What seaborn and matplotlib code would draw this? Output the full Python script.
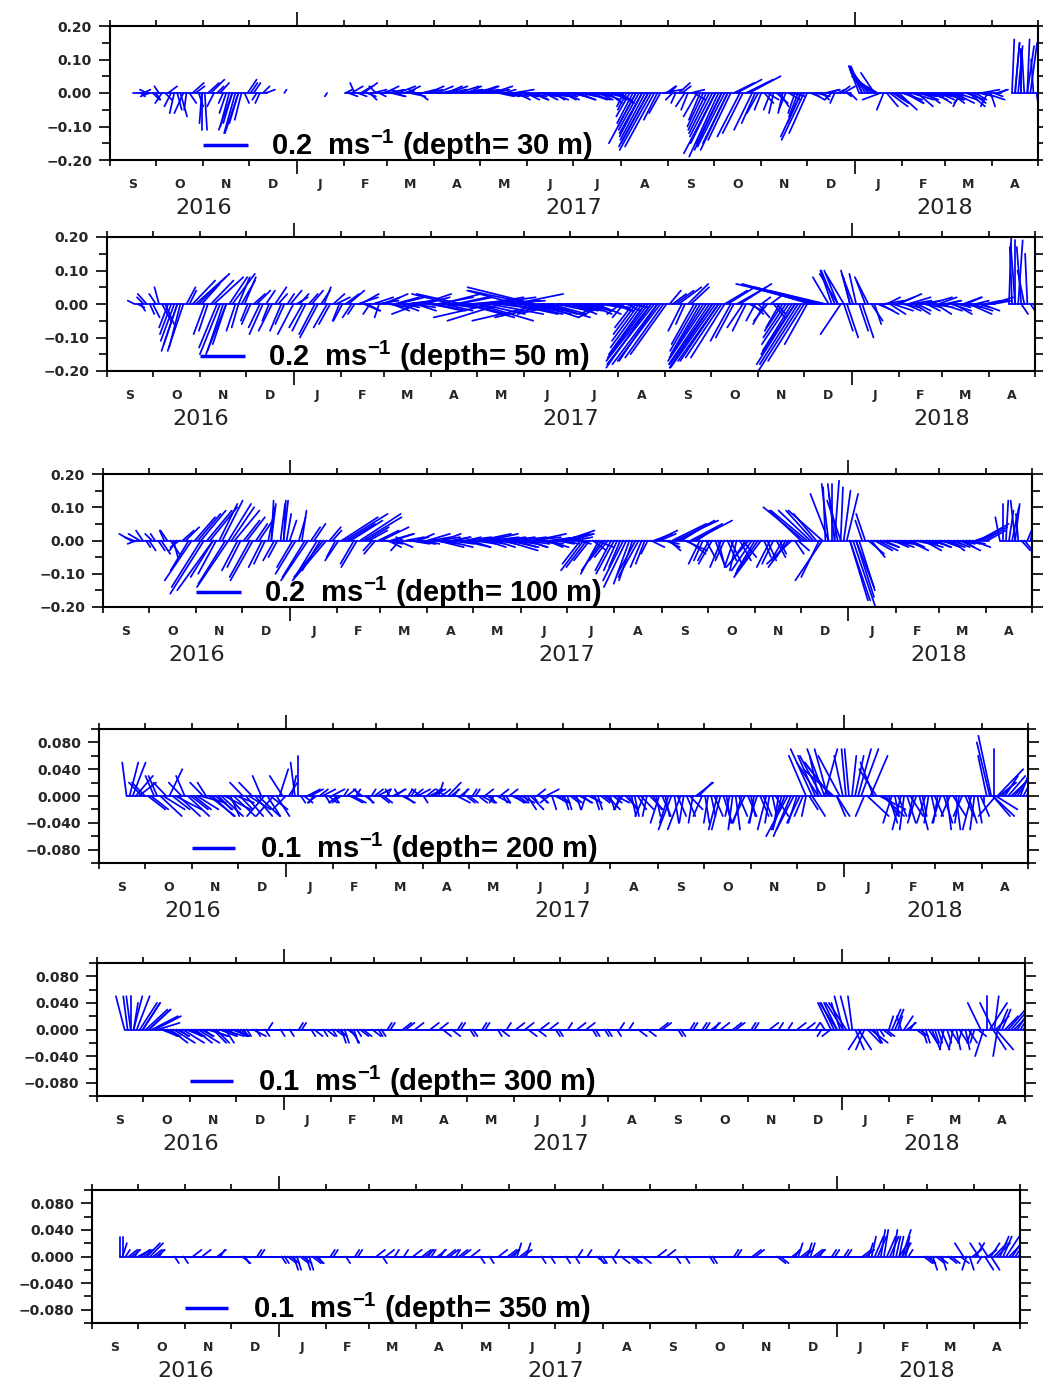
import numpy as np
import pandas as pd
import matplotlib
matplotlib.use("Agg")
import matplotlib.pyplot as plt
import seaborn as sns
from matplotlib.ticker import MultipleLocator, FixedLocator, FuncFormatter
from matplotlib.transforms import blended_transform_factory

sns.set_theme(style="ticks")
plt.rcParams["font.family"] = ["Liberation Sans", "DejaVu Sans"]
plt.rcParams["mathtext.fontset"] = "custom"
plt.rcParams["mathtext.rm"] = "Liberation Sans"
plt.rcParams["mathtext.bf"] = "Liberation Sans:bold"
plt.rcParams["axes.unicode_minus"] = True

N = None
# ---------------- data (cm/s) ----------------
# u_*/v_*: records every 4 days from 2016-09-19; m*_: records 2 days later (interleaved)
depths = [30, 50, 100, 200, 300, 350]
ref_speed = [0.2, 0.2, 0.2, 0.1, 0.1, 0.1]
month_labels = ["S", "O", "N", "D", "J", "F", "M", "A", "M", "J", "J", "A",
                "S", "O", "N", "D", "J", "F", "M", "A"]
year_labels = ["2016", "2017", "2018"]
year_dates = ["2016-11-01", "2017-07-01", "2018-03-01"]

u_30 = [-2, 3, -4,
        2, -3, 4, -2, 3, -1, 5, 2,
        1, 6, 3, -2, -4, -5, -3, 4,
        3, -2, 4, N, N, 1, N,
        N, N, N, N, N, -1, N, N,
        3, 5, 4, 6, 3, -3, 5,
        7, 5, -4, 6, 8, 4, 6, 5,
        7, 6, 8, 5, 9, 6, 7,
        8, 6, 9, 7, 5, 8, 6, 7,
        8, 6, 7, 9, 5, 8, 6, 7,
        8, 6, 9, 7, 8, 6, 5,
        6, -4, -7, -9, -11, -14, -6, 8,
        3, -2, 4, -3, 5, -5, -8, -10,
        -13, -12, -10, 11, -9, 14, -6,
        -3, 5, -2, 4, -3, 6, -4, -10,
        4, 6, 3, 5, -2, 4, 2, N,
        -4, -7, -9, -10, -3, 8, 6,
        9, 7, 10, 8, 6, 9, 7,
        8, 6, 9, -4, 7, 5, 8, -3,
        4, 3, N, 1, 2, -1, 3, 1]
v_30 = [0, 1, -1,
        -2, -3, 2, -6, -7, -5, 3, -4,
        -11, 4, 2, -3, -10, -12, -8, 4,
        3, -3, 1, N, N, 1, N,
        N, N, N, N, N, -1, N, N,
        1, 2, -1, 3, -2, 2, 1,
        1, -1, 1, 2, 0, -2, 1, 1,
        2, 1, 2, 1, 1, 2, 1,
        1, 1, 2, -1, 1, -1, -2, -1,
        -1, -2, -1, -1, -2, -1, -2, -1,
        -2, -1, -2, -1, -2, -3, -2,
        -3, -5, -9, -11, -14, -17, -8, 1,
        2, -3, 2, -5, -2, -8, -11, -13,
        -19, -16, -14, 4, -12, 5, -9,
        -5, -2, -6, -4, -5, -1, -7, -14,
        -1, -1, -2, 1, -3, 2, -1, N,
        7, 8, 6, 4, -5, -4, -3,
        -2, -3, -1, -2, -3, -1, -2,
        -1, -3, -2, -3, -4, -2, 1, -4,
        -1, 1, N, 16, 14, 12, 15, -4]
mu_30 = [2, -3, 3,
         -2, 3, -3, 2, -4, 3, 4, -1,
         5, -3, 4, -3, -6, -4, 2, 3,
         -2, 3, N, N, N, N, N,
         N, N, N, N, N, N, N, N,
         4, -2, 5, 4, 6, 3, 6,
         6, 8, 5, 7, -3, 6, 7, 8,
         8, 7, 6, 9, 8, 7, 9,
         7, 9, 6, 8, 7, 9, 8, 6,
         7, 9, 6, 8, 7, 6, 8, 9,
         7, 9, 8, 6, 7, 9, 7,
         -3, -6, -8, -10, -12, -13, -5, 4,
         -3, 5, -4, 6, -6, -7, -9, -11,
         -12, -11, 9, -10, 12, -8, -5,
         4, -3, 5, -2, 5, -3, -6, -8,
         5, 4, 6, -3, 3, 5, 3, N,
         -6, -8, -10, -8, 5, 7, 8,
         8, 10, 7, 9, 8, 7, 10,
         7, 9, -3, 8, 6, 7, 9, 2,
         5, N, N, 2, 0, 1, -1, N]
mv_30 = [-1, 1, -2,
         2, -2, -4, -5, -6, -3, 2, -9,
         3, -4, 3, -6, -11, -9, -3, 3,
         -2, 2, N, N, N, N, N,
         N, N, N, N, N, N, N, N,
         -1, 3, 2, -1, 1, -1, 2,
         -1, 2, 1, -1, 1, 1, 2, 0,
         1, 2, 1, 2, 1, 1, 2,
         2, 1, 1, -1, -1, 1, -1, -2,
         -2, -1, -2, -2, -1, -2, -1, -2,
         -1, -2, -1, -2, -1, -2, -3,
         -4, -7, -10, -13, -15, -16, -6, 2,
         -2, 3, -4, 1, -7, -10, -12, -15,
         -17, -15, 3, -13, 4, -11, -6,
         -3, -5, -3, -6, -2, -6, -9, -12,
         -2, -1, 1, -2, 1, 2, -2, N,
         8, 7, 5, -2, -4, -3, -5,
         -3, -2, -4, -1, -2, -3, -2,
         -2, -3, -4, -2, -3, -1, -2, -4,
         1, N, N, 15, 13, 16, 10, N]

u_50 = [-3, 2, -4,
        3, -2, 4, -5, -6, -7, 3, 15,
        8, -4, 13, -9, -6, 10, -3, 5,
        -4, 6, -6, -3, 5, -5, 3,
        -7, 4, -6, 5, -8, 3, -5, 6,
        -4, 7, -3, 8, 6, 9, -2,
        10, 8, 12, 7, 11, 9, 13, 10,
        14, 18, 12, -18, 15, 22, 16,
        25, 18, 24, 20, -24, 17, 22, 19,
        20, -28, 18, -32, 16, 14, -20, 13,
        12, 9, 11, 8, 10, -12, 9,
        7, -5, 8, -10, -14, -18, -21, -19,
        -16, 6, 10, -4, 8, -12, -15, -18,
        -20, -16, 12, -8, 14, -6, 5,
        5, -5, 6, 4, -8, -12, -15, -19,
        -10, -28, -37, -25, -5, -8, 4, -4,
        -3, 5, -6, 3, 8, 6, 9,
        10, 7, 9, 6, 8, 10, 7,
        9, 6, 8, 10, 7, 9, 5, 7,
        10, N, N, 1, -2, 3, -1, 4]
v_50 = [1, -2, 3,
        -4, 5, -6, -9, -12, -14, 4, 9,
        6, -8, 8, -15, -12, 9, -7, 8,
        -6, 4, -9, -5, 5, -8, 3,
        -9, 3, -8, 4, -10, 5, -6, 2,
        -5, 4, -3, 3, -2, 2, -4,
        3, -2, 2, -1, 1, -2, 3, -1,
        -2, 3, -1, 3, 2, -4, 1,
        -5, 2, -3, 1, -5, -2, 3, -3,
        -3, 4, -4, -5, -3, -2, -3, -2,
        -2, -1, -3, -2, -1, -4, -2,
        -2, -4, -1, -9, -13, -16, -18, -17,
        -15, 3, 5, -6, 5, -14, -16, -18,
        -19, -16, 5, -10, 6, -8, -3,
        -4, -6, 3, -3, -8, -12, -15, -20,
        -12, 5, 6, 4, 10, 9, -8, 10,
        9, -10, 8, -6, -3, 2, -2,
        3, -2, 1, -2, -1, 2, -3,
        -2, 1, -3, -1, 2, -2, -1, 1,
        2, N, N, 20, 18, -3, 15, -4]
mu_50 = [3, -3, 2,
         -3, 4, -4, -6, -5, 4, 10, 12,
         -5, 10, -8, -7, 8, -4, 6, -3,
         5, -5, 4, -6, 4, -4, 5,
         5, -6, 4, -7, 4, -6, 5, -3,
         6, -4, 9, 7, -3, 10, 8,
         9, 11, 8, 12, 10, -12, 11, 14,
         16, 13, 19, 14, -20, 17, 21,
         20, 22, -26, 23, 18, 21, -22, 20,
         17, -30, 16, 19, -26, 15, 12, 11,
         10, 12, 9, 11, -10, 9, 8,
         -6, 6, -8, -12, -16, -20, -20, -17,
         5, 8, -6, 9, -10, -13, -17, -19,
         -18, 10, -9, 13, -7, 6, -4,
         4, -6, 5, -6, -10, -13, -17, -16,
         -20, -33, -30, -7, -6, -9, 5, -5,
         4, -4, 5, 7, 9, 7, 8,
         8, 10, 7, 9, 6, 9, 8,
         7, 9, 6, 8, 10, 6, 8, 9,
         8, N, N, -1, 2, -3, 3, N]
mv_50 = [-1, 2, -3,
         3, -5, -7, -11, -13, 5, 7, 8,
         -9, 7, -13, -14, 8, -8, 7, -5,
         3, -7, 4, -8, 3, -6, 4,
         2, -7, 3, -9, 4, -7, 3, -5,
         3, -4, 2, -2, -3, 1, 2,
         -1, 2, -2, 1, -1, -3, 2, -2,
         2, -2, -1, 2, 3, -3, 1,
         -3, 2, -4, -2, 1, -3, 4, -2,
         -2, 5, -3, -4, -4, -2, -1, -3,
         -1, -2, -2, -3, -3, -1, -2,
         -3, -2, -7, -11, -15, -17, -18, -16,
         4, 4, -8, 6, -12, -15, -17, -19,
         -17, 4, -11, 5, -7, -2, -5,
         2, -5, -4, -7, -10, -14, -18, -17,
         4, 6, 5, 8, 10, -9, -10, 9,
         -8, 7, -5, -2, 1, -3, 2,
         -1, 2, -3, 1, -2, -1, 2,
         1, -2, -1, 2, -3, 1, -2, 1,
         1, N, N, 17, 19, 10, -3, N]

u_100 = [-5, -4, -3,
         3, -2, 4, -3, 2, -4, 6, -12,
         10, -15, 12, -8, 9, -14, 11, -6,
         8, -10, 6, -5, 2, -4, 1,
         3, -9, 2, -12, 5, -8, -15, 4,
         -6, 19, 14, -7, 17, 8, -5,
         12, 6, 9, -4, 8, 10, 7, 5,
         9, 12, 8, 11, 7, 13, 6,
         10, 14, 9, 12, 8, 15, 11, 9,
         12, 8, 14, 10, 7, 11, 9, 13,
         10, 6, -10, -7, 8, -9, -6,
         -8, -5, -10, -6, -9, -4, 6, 9,
         7, 5, 19, 12, 8, 17, -5, 4,
         -6, 3, -4, 5, -3, 6, -10,
         -8, -12, 4, -5, 3, -4, -11, 5,
         -18, -14, -10, -12, -3, 2, -6, 5,
         10, 7, -4, 6, 9, 7, 10,
         8, 6, 9, 7, 10, 5, 8,
         7, 9, 6, 8, 5, 7, 9, 12,
         8, N, -2, 1, 3, -1, 5, 2]
v_100 = [2, -1, 3,
         -3, 2, -4, 3, -5, -2, 4, -12,
         8, -16, 10, -10, 12, -14, 9, -8,
         7, -12, 6, -7, 11, -5, 12,
         6, -10, 9, -12, 5, -9, -12, 3,
         -6, 8, 6, -8, 7, 3, -4,
         4, -2, 2, -3, 1, -1, 2, -1,
         1, -2, 2, -1, 1, -2, 1,
         -1, 2, -2, 1, -1, -3, 1, -2,
         -1, -2, 2, -1, -2, 1, -1, 3,
         2, -1, -9, -6, -2, -9, -5,
         -10, -8, -14, -12, -11, -7, -2, 3,
         -1, -3, 6, 5, -4, 6, -7, -5,
         -7, -8, -6, -7, -9, -5, -8,
         -9, -11, -6, -7, -4, -5, -7, -3,
         10, 9, 8, -12, 17, 18, 12, 14,
         -20, -15, 8, -5, -3, -2, -1,
         -2, -1, -3, -1, -2, -1, -2,
         -1, -2, -3, -1, -2, -1, 2, 5,
         3, N, 7, 12, 10, 8, -4, 6]
mu_100 = [-4, -5, 2,
          -3, 3, -2, 4, -3, 5, -8, 9,
          -13, 11, -10, 8, -12, 10, -7, 7,
          -9, 5, -6, 3, -5, 2, 2,
          -7, 3, -10, 4, -9, -13, 5, -4,
          16, 12, -6, 18, 10, -4, 9,
          8, 10, 7, -3, 9, 6, 8, 10,
          11, 9, 12, 8, 10, 12, 9,
          12, 10, 13, 9, 11, 14, 10, 12,
          10, 13, 9, 11, 12, 8, 12, 11,
          8, -8, -9, 6, -8, -7, -7,
          -6, -9, -7, -8, -5, -3, 8, 7,
          6, 15, 16, 10, 14, 9, -4, -5,
          4, -5, 4, -4, 5, -7, -9,
          -10, 3, -6, 4, -5, -9, 4, -14,
          -16, -12, -8, -1, 0, -4, 3, 8,
          8, -3, 7, 8, 8, 9, 7,
          7, 8, 6, 9, 8, 6, 7,
          8, 6, 7, 9, 6, 8, 11, 10,
          N, N, 0, 2, -2, 4, 3, N]
mv_100 = [1, 2, -2,
          2, -3, 3, -4, -3, 3, -9, 7,
          -14, 9, -11, 11, -13, 10, -9, 6,
          -11, 5, -8, 10, -6, 11, 8,
          -8, 7, -11, 4, -10, -11, 4, -5,
          7, 5, -7, 8, 4, -3, 3,
          -1, 2, -2, 1, -1, 1, -1, 2,
          -1, 1, -2, 1, -1, 1, -2,
          1, -1, 2, -2, 1, -2, -1, 1,
          -2, 1, -1, -2, 1, -1, 2, 2,
          1, -7, -8, -3, -10, -6, -9,
          -9, -12, -13, -10, -8, -4, 2, 2,
          -2, 5, 6, -3, 5, 4, -6, -6,
          -7, -8, -6, -8, -6, -7, -9,
          -10, -5, -8, -5, -6, -8, -4, 9,
          9, 9, -11, 16, 17, 14, 15, -18,
          -17, 6, -4, -3, -2, -1, -2,
          -1, -2, -2, -1, -3, -1, -2,
          -2, -1, -2, -3, -1, -2, 4, 4,
          N, N, 11, 9, 12, -3, 5, N]

u_200 = [-1, 3, 4,
         -3, 4, -2, 5, 3, 6, -3, 5,
         4, 6, -2, 5, 3, 6, 2, 4,
         -3, 5, 4, -2, 3, -4, 2,
         -3, 1, 0, 2, 3, -2, 3, 2,
         1, -2, 2, 3, -1, 2, 1,
         3, 2, -1, 2, 3, 1, 2, -2,
         2, 3, 1, -2, 2, 3, 1,
         2, 1, 3, 2, -1, 2, 1, 3,
         2, 1, 3, 2, 1, -2, 3, 2,
         1, 2, 3, -1, 2, 1, 2,
         1, 3, -2, 2, 1, 3, -1, 2,
         -2, 1, -3, 2, -1, 3, 4, -2,
         -1, 2, -2, 1, -1, 2, -3,
         1, -2, 2, -1, 3, -2, -5, -4,
         -3, -1, 3, -5, -4, -6, 3, -2,
         -1, 2, 4, 5, -3, 6, 3,
         -2, 2, -1, 3, -2, 1, -1,
         2, -2, 1, 3, -1, 2, -2, 1,
         0, -3, 5, 3, 4, 5, 3, 4]
v_200 = [5, 5, 2,
         2, -2, 3, -2, 4, -2, 2, -3,
         -2, -1, 2, -3, -2, -2, -3, -1,
         2, -2, -3, 3, -3, -3, 4,
         -2, 3, 6, -1, 1, -1, 1, -1,
         -1, -1, 1, -1, 1, -1, 1,
         1, -1, 1, 1, -1, 1, 1, 1,
         1, 1, 2, 1, 1, -1, 1,
         -1, 1, -1, -1, -1, 1, -1, -1,
         -1, -1, -2, 1, -1, -1, -1, -1,
         -2, -1, -1, -2, -1, -2, -1,
         -2, -1, -2, -2, -3, -2, -3, -2,
         -4, -3, -5, -3, -4, -2, 2, -3,
         -4, -3, -5, -4, -5, -3, -4,
         -3, -4, -3, -4, -3, -5, -6, -5,
         -4, -3, -3, 5, 7, 5, -3, 6,
         7, 6, 7, -3, 5, -2, -3,
         -4, -3, -5, -3, -4, -3, -4,
         -3, -4, -5, -3, -4, -3, -5, -4,
         -1, 8, -2, 2, 3, 4, 5, 4]
mu_200 = [2, 4, -3,
          4, -2, 5, -3, 4, 5, -2, 4,
          5, -3, 6, 4, 5, 3, 5, 3,
          4, -3, 5, -4, 4, 3, -3,
          2, -1, 1, 3, -1, 2, 1, 3,
          -2, 1, 3, 1, -2, 1, 2,
          2, 1, 3, -1, 2, 1, 3, 1,
          3, 1, 2, 3, 1, 2, 2,
          1, 2, 2, 1, 3, 1, 2, 2,
          3, 2, 1, 2, 3, 1, 2, 1,
          2, 1, 2, 3, 1, 2, 3,
          2, -1, 3, 1, 2, -2, 3, 1,
          2, -2, 1, -3, 2, -1, 3, 1,
          1, -2, 2, -1, 1, -2, 2,
          -1, 2, -2, 1, -1, -3, -4, -2,
          -2, 2, -4, -5, -3, -7, -5, -1,
          1, 3, -2, 4, -4, 5, 2,
          1, -2, 2, -1, 2, -2, 1,
          -1, 2, -2, 1, -2, 2, -1, 2,
          -2, 4, 4, 3, 5, 4, 4, N]
mv_200 = [5, 3, 2,
          -2, 3, -3, 2, -2, -3, 3, -2,
          -2, 2, -3, -2, -3, -2, -3, -2,
          -3, 2, -3, -3, -2, -3, 3,
          2, 5, -1, 1, -1, 1, -1, 1,
          -1, 1, -1, 1, 1, -1, 1,
          -1, 1, 1, 1, -1, 1, 1, -1,
          1, 1, 1, 2, 1, 1, -1,
          1, -1, 1, -1, -1, -1, 1, -1,
          -1, -2, -1, -1, 1, -2, -1, -2,
          -1, -2, -1, -1, -2, -1, -2,
          -1, -2, -2, -3, -2, -3, -2, -3,
          -3, -4, -4, -5, -3, -4, 2, -4,
          -3, -5, -4, -3, -5, -4, -3,
          -4, -3, -5, -3, -4, -5, -6, -4,
          -3, -2, 6, 6, 7, 4, 6, 7,
          6, 7, -3, 6, 4, -3, -4,
          -3, -5, -4, -3, -5, -4, -3,
          -4, -4, -3, -5, -3, -4, -5, -3,
          6, -3, 2, 3, 3, 4, 5, N]

u_300 = [-2, 0, 3,
         4, 5, 6, 4, 3, 5, 2, 4,
         3, 5, 2, 4, 3, 5, 2, 3,
         2, 1, 3, 2, 1, 2, 1,
         2, 1, 2, 1, -1, 2, 1, 2,
         1, 2, 1, 2, 1, 2, 1,
         2, 1, 1, 2, -1, 2, 1, 2,
         1, 2, 1, 2, 1, 2, 1,
         2, 1, 2, 1, 2, 1, 2, 1,
         2, 1, 2, 1, 2, 1, 2, 1,
         2, 1, 2, 1, 2, 1, 2,
         1, 2, 1, 2, 1, 2, 1, 2,
         1, 2, 1, 2, 1, 2, 1, 2,
         1, 2, 1, 2, 1, 2, 1,
         2, 1, 2, 1, 2, 1, 2, 1,
         2, 1, 2, 1, -1, 2, -3, -2,
         -4, -1, 3, -2, 4, 1, 2,
         1, 2, -1, 2, 1, 2, 1,
         2, 1, -1, 2, 1, -1, 2, -1,
         -3, 0, 3, 2, 3, 4, 3, 2]
v_300 = [5, 5, 5,
         4, 3, 2, -1, -1, -2, -1, -1,
         -1, -2, -1, -1, -2, -1, -1, -1,
         -1, -1, -1, 0, -1, 0, 0,
         0, -1, 0, 1, 0, -1, 0, -1,
         -1, -1, -2, -2, -1, -1, 0,
         0, -1, 1, 0, 0, 1, 0, 0,
         0, 1, 0, -1, 0, 0, 1,
         0, -1, 0, 1, 0, -1, 0, 0,
         1, 0, -1, 0, 1, 0, 0, -1,
         0, 0, 1, 0, 0, -1, 0,
         -1, 0, 1, 0, 0, -1, 0, 0,
         0, 1, 0, 0, -1, 0, 1, 0,
         1, 1, 0, 0, 0, 1, 0,
         0, 1, 0, 0, 0, 1, 0, 0,
         1, 0, 0, 1, -1, 0, 4, 4,
         4, 5, -3, -3, -2, -2, -1,
         2, 3, 2, 1, 0, -1, -2,
         -3, -2, -3, -2, -3, -2, -2, -2,
         4, 5, -3, 3, 2, 3, 3, 2]
mu_300 = [-1, 2, 4,
          5, 6, 5, 3, 4, 3, 5, 3,
          4, 3, 5, 3, 4, 2, 4, 2,
          1, 2, 1, 2, 1, 2, 1,
          1, 2, 1, 2, 1, 2, 1, 1,
          2, 1, 2, 1, 2, 1, 2,
          1, 2, 1, 1, 2, 1, 2, 1,
          2, 1, 2, 1, 2, 1, 2,
          1, 2, 1, 2, 1, 2, 1, 2,
          1, 2, 1, 2, 1, 2, 1, 2,
          1, 2, 1, 2, 1, 2, 1,
          2, 1, 2, 1, 2, 1, 2, 1,
          2, 1, 2, 1, 2, 1, 2, 1,
          2, 1, 2, 1, 2, 1, 2,
          1, 2, 1, 2, 1, 2, 1, 2,
          1, 2, 1, 2, -1, -2, -3, -4,
          -2, 2, -3, 3, 2, 1, 2,
          2, 1, 2, 1, 2, 1, 2,
          1, 2, 1, -1, 2, 1, -1, 2,
          -2, 4, 3, 2, 4, 3, 3, N]
mv_300 = [5, 5, 4,
          3, 2, 1, -1, -2, -1, -2, -1,
          -2, -1, -1, -2, -1, -2, -1, -1,
          -1, 0, -1, 0, 1, 0, -1,
          0, 0, 1, 0, -1, 0, -1, 0,
          -1, -2, -1, -2, -1, 0, -1,
          -1, 0, 1, 0, 1, 0, 1, 0,
          0, 0, 1, 0, -1, 1, 0,
          -1, 0, 1, 0, 0, -1, 1, 0,
          0, 1, 0, -1, 0, 1, -1, 0,
          1, 0, 0, 1, -1, 0, -1,
          0, -1, 0, 1, 0, 0, -1, 0,
          1, 0, 0, -1, 0, 1, 0, 1,
          0, 1, 1, 0, 1, 0, 0,
          1, 0, 0, 1, 0, 0, 1, 0,
          0, 1, 0, 0, 1, -1, 4, 4,
          5, -3, -3, -2, -2, -1, -1,
          3, 2, 2, 1, -1, -2, -2,
          -2, -3, -2, -3, -2, -3, -2, -1,
          -4, 4, 2, 3, 3, 2, 3, N]

u_350 = [0, 1, 2,
         3, 2, 3, 2, 1, 2, 1, 2,
         1, 2, 1, 2, 1, 2, 1, 2,
         1, 2, 1, 2, 1, 2, 1,
         2, 1, 2, 1, 2, 1, 2, 1,
         2, 1, 2, 1, 2, 1, 2,
         1, 2, 1, 2, 1, 2, 1, 2,
         1, 2, 1, 2, 1, 2, 1,
         2, 1, 2, 1, 2, 1, 2, 1,
         2, 1, 2, 1, 2, 1, 2, 1,
         2, 1, 2, 1, 2, 1, 2,
         1, 2, 1, 2, 1, 2, 1, 2,
         1, 2, 1, 2, 1, 2, 1, 2,
         1, 2, 1, 2, 1, 2, 1,
         2, 1, 2, 1, 2, 1, 2, 1,
         2, 1, 2, 1, 2, 1, 2, 1,
         2, 1, 2, 1, 2, 1, 2,
         1, 2, 1, 2, 1, 2, 1,
         2, 1, 2, 1, 2, 1, -2, 1,
         2, -1, 2, 3, 2, 3, 2, 1]
v_350 = [3, 1, 1,
         1, 1, 2, 1, 0, 0, -1, 0,
         0, 1, 0, 0, 0, 1, 0, 0,
         0, -1, 0, 0, 1, 0, 0,
         0, -1, -1, -2, -1, -2, -1, 0,
         0, 1, 0, -1, 0, 1, 0,
         0, 1, -1, 0, 1, 0, 0, 1,
         0, 1, 1, 1, 0, 1, 1,
         1, 0, 0, -1, 0, 0, 1, 0,
         1, 2, 1, 0, 0, -1, 0, 0,
         0, -1, 0, 1, 0, 0, -1,
         -1, 0, 1, -1, 0, -1, 0, 0,
         0, 1, 0, 0, -1, 0, 0, 0,
         0, 0, -1, 0, 0, 0, 1,
         0, 0, 1, 0, 0, 0, -1, 0,
         1, 2, 1, 2, 1, 0, 0, 1,
         0, 1, 0, 0, 1, 3, 3,
         4, 3, 3, 2, 1, 0, 0,
         -1, -2, -1, 0, -1, 0, 2, -2,
         2, -1, 1, 2, 3, 3, 2, 1]
mu_350 = [1, 2, 1,
          2, 3, 2, 1, 2, 1, 2, 1,
          2, 1, 2, 1, 2, 1, 2, 1,
          2, 1, 2, 1, 2, 1, 2,
          1, 2, 1, 2, 1, 2, 1, 2,
          1, 2, 1, 2, 1, 2, 1,
          2, 1, 2, 1, 2, 1, 2, 1,
          2, 1, 2, 1, 2, 1, 2,
          1, 2, 1, 2, 1, 2, 1, 2,
          1, 2, 1, 2, 1, 2, 1, 2,
          1, 2, 1, 2, 1, 2, 1,
          2, 1, 2, 1, 2, 1, 2, 1,
          2, 1, 2, 1, 2, 1, 2, 1,
          2, 1, 2, 1, 2, 1, 2,
          1, 2, 1, 2, 1, 2, 1, 2,
          1, 2, 1, 2, 1, 2, 1, 2,
          1, 2, 1, 2, 1, 2, 1,
          2, 1, 2, 1, 2, 1, 2,
          1, 2, 1, 2, 1, 2, -1, 2,
          -2, 2, 2, 3, 2, 3, 2, N]
mv_350 = [2, 1, 1,
          1, 2, 1, 1, 0, 0, 0, -1,
          0, 0, 1, 0, 0, 1, 0, 0,
          0, -1, 0, 1, 0, 0, 0,
          -1, -1, -2, -1, -2, -1, -1, 0,
          1, 0, 0, 0, 1, 0, 0,
          0, 0, 1, 0, 0, 1, 0, 0,
          1, 1, 0, 1, 1, 0, 1,
          0, 1, 0, 0, -1, 0, 0, 1,
          1, 1, 2, 0, 0, 0, -1, 0,
          0, 0, -1, 0, 1, 0, -1,
          0, -1, 0, 0, -1, 0, -1, 0,
          0, 0, 1, 0, 0, -1, 0, 0,
          0, -1, 0, 0, 0, 1, 0,
          0, 1, 0, 0, 0, -1, 0, 0,
          1, 1, 2, 1, 1, 0, 1, 0,
          1, 0, 0, 1, 2, 3, 4,
          3, 4, 2, 2, 0, 0, -1,
          -1, -1, -2, -1, 0, -1, -2, 1,
          2, -2, 2, 2, 3, 2, 2, N]

# extra sticks inside the densest fans (day since 2016-09-01, u, v in cm/s)
xd_30 = [60, 80, 84, 344, 348, 352, 396, 400, 404, 452, 492, 496, 500, 592, 596, 600]
xu_30 = [0, -4, -6, -12, -10, -13, -14, -11, -12, -9, -5, -8, -6, 2, 0, 3]
xv_30 = [-11, -9, -12, -15, -12, -16, -18, -15, -17, -13, 8, 7, 6, 15, 13, 14]
xd_50 = [46, 78, 86, 352, 356, 360, 396, 400, 404, 450, 478, 482, 486, 594, 598]
xu_50 = [-7, -9, 5, -16, -20, -17, -19, -17, -15, -17, -6, -8, -3, 0, -2]
xv_50 = [-14, -15, 8, -15, -19, -17, -18, -17, -16, -18, 10, 9, 8, 19, 17]
xd_100 = [64, 72, 82, 110, 118, 470, 474, 478, 482, 488, 492, 596]
xu_100 = [11, -16, 10, 1, 2, -15, -8, -3, 1, 9, 8, 2]
xv_100 = [9, -15, 11, 12, 12, 9, 14, 17, 16, -18, -14, 11]
xd_200 = [462, 466, 470, 474, 478, 482, 583, 584, 585, 586, 587]
xu_200 = [-4, -5, -2, 3, -6, 2, -3, 5, 0, -4, 6]
xv_200 = [6, 7, 6, 7, 5, -3, 9, -3, 7, -3, 4]
xd_300 = [22, 24, 30, 34, 480, 484, 488, 586, 587, 588, 589]
xu_300 = [-1, 1, 4, 5, -3, -4, -2, -3, 1, 4, -1]
xv_300 = [5, 4, 4, 3, 4, 4, 5, 4, 5, -3, -4]
xd_350 = [20, 528, 530, 532, 586, 588]
xu_350 = [0, 1, 2, 1, -2, 2]
xv_350 = [3, 3, 4, 3, 2, -2]

U = [u_30, u_50, u_100, u_200, u_300, u_350]
V = [v_30, v_50, v_100, v_200, v_300, v_350]
MU = [mu_30, mu_50, mu_100, mu_200, mu_300, mu_350]
MV = [mv_30, mv_50, mv_100, mv_200, mv_300, mv_350]
XD = [xd_30, xd_50, xd_100, xd_200, xd_300, xd_350]
XU = [xu_30, xu_50, xu_100, xu_200, xu_300, xu_350]
XV = [xv_30, xv_50, xv_100, xv_200, xv_300, xv_350]

# ---------------- layout ----------------
W, H = 1043, 1387
boxes = [(110, 1038, 26, 160), (107, 1035, 237, 371), (103, 1032, 474, 607),
         (99, 1028, 729, 863), (97, 1025, 963, 1096), (92, 1020, 1190, 1323)]
start = pd.Timestamp("2016-09-01")
edges = pd.date_range("2016-09-01", "2018-05-01", freq="MS")
edge_days = np.array([(d - start).days for d in edges], dtype=float)
mid_days = (edge_days[:-1] + edge_days[1:]) / 2
year_days = [(pd.Timestamp(d) - start).days for d in year_dates]
XMAX = edge_days[-1]
PX_PER_DAY = (boxes[0][1] - boxes[0][0]) / XMAX
REF_PX = [45, 45, 45, 43, 43, 43]
BLUE = "#0000ff"
STEP = 2
FIRST_DAY = 18


def minus_fmt(ndig):
    return FuncFormatter(lambda val, pos: (("%." + str(ndig) + "f") % val).replace("-", "\u2212")
                         if abs(val) > 1e-9 else ("%." + str(ndig) + "f") % 0.0)


fig = plt.figure(figsize=(W / 100, H / 100), dpi=100)
fig.patch.set_facecolor("white")

for p in range(6):
    l, r, t, b = boxes[p]
    ax = fig.add_axes([l / W, 1 - b / H, (r - l) / W, (b - t) / H])
    ax.set_facecolor("white")
    for arr in (U[p], V[p], MU[p], MV[p]):
        assert len(arr) == 148, (p, len(arr))
    u, v = [], []
    for a, b2, c, d2 in zip(U[p], V[p], MU[p], MV[p]):
        u += [a, c]
        v += [b2, d2]
    days = FIRST_DAY + STEP * np.arange(len(u))
    ref_cm = ref_speed[p] * 100
    k = (REF_PX[p] / PX_PER_DAY) / ref_cm  # days per cm/s
    rows = []
    sid = 0
    for d, uu, vv in list(zip(days, u, v)) + list(zip(XD[p], XU[p], XV[p])):
        if uu is None or vv is None:
            continue
        rows.append((sid, d, 0.0))
        rows.append((sid, d + k * uu, vv / 100.0))
        sid += 1
    # stick baseline along each run of consecutive records
    valid = [uu is not None for uu in u]
    i = 0
    while i < len(valid):
        if valid[i]:
            j = i
            while j + 1 < len(valid) and valid[j + 1]:
                j += 1
            if j > i:
                rows.append((sid, days[i], 0.0))
                rows.append((sid, days[j] + STEP / 2, 0.0))
                sid += 1
            i = j + 1
        else:
            i += 1
    df = pd.DataFrame(rows, columns=["stick", "x", "y"])
    sns.lineplot(data=df, x="x", y="y", units="stick", estimator=None, sort=False,
                 color=BLUE, linewidth=1.25, ax=ax, legend=False)
    ax.set_xlabel("")
    ax.set_ylabel("")
    ax.set_xlim(0, XMAX)
    lim = 0.2 if p < 3 else 0.1
    ax.set_ylim(-lim, lim)

    # y axis
    if p < 3:
        ax.yaxis.set_major_locator(MultipleLocator(0.1))
        ax.yaxis.set_minor_locator(MultipleLocator(0.05))
        ax.yaxis.set_major_formatter(minus_fmt(2))
    else:
        ax.yaxis.set_major_locator(FixedLocator([-0.08, -0.04, 0.0, 0.04, 0.08]))
        ax.yaxis.set_minor_locator(MultipleLocator(0.02))
        ax.yaxis.set_major_formatter(minus_fmt(3))
    ax.tick_params(axis="y", which="both", direction="out", left=True, right=True,
                   labelleft=True, labelright=False, width=1.2, color="black")
    ax.tick_params(axis="y", which="major", length=8, pad=5, labelsize=10)
    ax.tick_params(axis="y", which="minor", length=6)
    for lab in ax.get_yticklabels():
        lab.set_family("DejaVu Sans")
        lab.set_fontweight("bold")

    # x axis: month boundaries (ticks) and mid-month letters
    ax.set_xticks(edge_days)
    ax.set_xticklabels([])
    ax.set_xticks(mid_days, minor=True)
    ax.set_xticklabels(month_labels, minor=True, fontfamily="DejaVu Sans",
                       fontweight="bold", fontsize=9)
    ax.tick_params(axis="x", which="major", direction="out", length=4, width=1.2,
                   top=True, bottom=True, color="black")
    ax.tick_params(axis="x", which="minor", length=0, pad=13, top=False)
    for tick, d in zip(ax.xaxis.get_major_ticks(), edges):
        if d.month == 1:
            tick.tick1line.set_markersize(10)
            tick.tick2line.set_markersize(10)

    for s in ax.spines.values():
        s.set_visible(True)
        s.set_color("black")
        s.set_linewidth(1.5)

    tr = blended_transform_factory(ax.transData, ax.transAxes)
    for yl, yd in zip(year_labels, year_days):
        ax.text(yd, -0.36, yl, transform=tr, ha="center", va="center",
                fontsize=16, family="DejaVu Sans", color="#222222")

    # reference vector and label
    ax.plot([61, 61 + k * ref_cm], [0.11, 0.11], transform=tr, color=BLUE, lw=2.5,
            solid_capstyle="butt")
    ref_txt = (("%.1f" % ref_speed[p]) + r"  ms$^{\mathbf{-1}}$ (depth= "
               + str(depths[p]) + " m)")
    ax.text(105, 0.11, ref_txt, transform=tr, ha="left", va="center",
            fontsize=21, fontweight="bold", family="Liberation Sans", color="black")

fig.savefig("out.png", dpi=100, facecolor="white")
